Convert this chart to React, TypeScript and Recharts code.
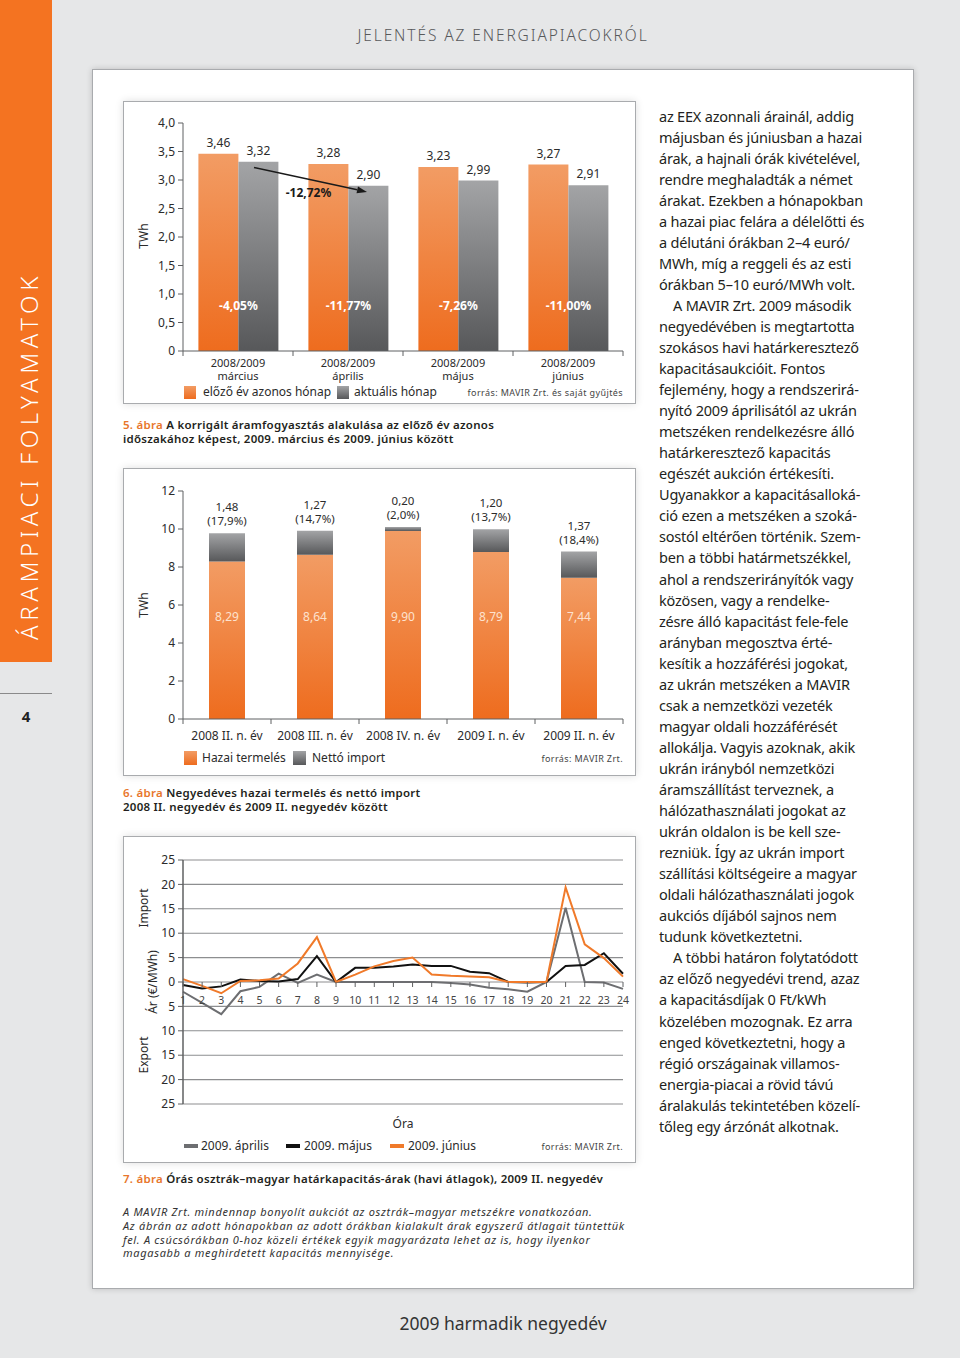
import React from 'react';
import {
  BarChart,
  Bar,
  XAxis,
  YAxis,
  LabelList,
  ReferenceLine,
  LineChart,
  Line,
  CartesianGrid,
} from 'recharts';

const FONT = '"Noto Sans", "DejaVu Sans", sans-serif';
const INK = '#2b2b2b';
const AXIS = '#5f6062';
const ORANGE = '#f07a2a';
const ORANGE_TEXT = '#e8762c';

// 5. ábra – korrigált áramfogyasztás (TWh)
const months = ['március', 'április', 'május', 'június'];
const prevYear = [3.46, 3.28, 3.23, 3.27];
const currYear = [3.32, 2.9, 2.99, 2.91];
const changeLabels = ['-4,05%', '-11,77%', '-7,26%', '-11,00%'];
const consTicks = [0, 0.5, 1, 1.5, 2, 2.5, 3, 3.5, 4];

// 6. ábra – hazai termelés és nettó import (TWh)
const quarters = ['2008 II. n. év', '2008 III. n. év', '2008 IV. n. év', '2009 I. n. év', '2009 II. n. év'];
const domestic = [8.29, 8.64, 9.9, 8.79, 7.44];
const netImport = [1.48, 1.27, 0.2, 1.2, 1.37];
const importShare = ['17,9%', '14,7%', '2,0%', '13,7%', '18,4%'];
const genTicks = [0, 2, 4, 6, 8, 10, 12];

// 7. ábra – órás határkapacitás-árak (€/MWh)
const hours = ['1', '2', '3', '4', '5', '6', '7', '8', '9', '10', '11', '12', '13', '14', '15', '16', '17', '18', '19', '20', '21', '22', '23', '24'];
const april = [-2.0, -4.3, -6.6, -1.9, -1.0, 1.7, -0.2, 1.5, 0, 0, 0, 0, 0, 0, -0.2, -0.5, -1.2, -1.5, -2.0, 0, 15.2, 0, -0.1, -1.4];
const may = [-0.6, -1.35, -0.9, 0.5, 0.2, 0.1, 0.6, 5.3, 0, 2.9, 2.9, 3.2, 3.6, 3.3, 3.3, 2.1, 1.8, 0, -0.1, 0, 3.3, 3.5, 5.9, 1.7];
const june = [0.6, -0.8, -2.3, 0.2, 0.35, 0.7, 3.8, 9.2, 0, 1.5, 3.2, 4.3, 5.0, 1.55, 1.3, 1.15, 0.95, 0, 0, 0, 19.4, 7.7, 4.9, 1.1];
const priceTicks = [-25, -20, -15, -10, -5, 0, 5, 10, 15, 20, 25];

const rightColumn = [
  'az EEX azonnali árainál, addig',
  'májusban és júniusban a hazai',
  'árak, a hajnali órák kivételével,',
  'rendre meghaladták a német',
  'árakat. Ezekben a hónapokban',
  'a hazai piac felára a délelőtti és',
  'a délutáni órákban 2–4 euró/',
  'MWh, míg a reggeli és az esti',
  'órákban 5–10 euró/MWh volt.',
  '\tA MAVIR Zrt. 2009 második',
  'negyedévében is megtartotta',
  'szokásos havi határkeresztező',
  'kapacitásaukcióit. Fontos',
  'fejlemény, hogy a rendszerirá-',
  'nyító 2009 áprilisától az ukrán',
  'metszéken rendelkezésre álló',
  'határkeresztező kapacitás',
  'egészét aukción értékesíti.',
  'Ugyanakkor a kapacitásalloká-',
  'ció ezen a metszéken a szoká-',
  'sostól eltérően történik. Szem-',
  'ben a többi határmetszékkel,',
  'ahol a rendszerirányítók vagy',
  'közösen, vagy a rendelke-',
  'zésre álló kapacitást fele-fele',
  'arányban megosztva érté-',
  'kesítik a hozzáférési jogokat,',
  'az ukrán metszéken a MAVIR',
  'csak a nemzetközi vezeték',
  'magyar oldali hozzáférését',
  'allokálja. Vagyis azoknak, akik',
  'ukrán irányból nemzetközi',
  'áramszállítást terveznek, a',
  'hálózathasználati jogokat az',
  'ukrán oldalon is be kell sze-',
  'rezniük. Így az ukrán import',
  'szállítási költségeire a magyar',
  'oldali hálózathasználati jogok',
  'aukciós díjából sajnos nem',
  'tudunk következtetni.',
  '\tA többi határon folytatódott',
  'az előző negyedévi trend, azaz',
  'a kapacitásdíjak 0 Ft/kWh',
  'közelében mozognak. Ez arra',
  'enged következtetni, hogy a',
  'régió országainak villamos-',
  'energia-piacai a rövid távú',
  'áralakulás tekintetében közelí-',
  'tőleg egy árzónát alkotnak.',
];

const noteLines = [
  'A MAVIR Zrt. mindennap bonyolít aukciót az osztrák–magyar metszékre vonatkozóan.',
  'Az ábrán az adott hónapokban az adott órákban kialakult árak egyszerű átlagait tüntettük',
  'fel. A csúcsórákban 0-hoz közeli értékek egyik magyarázata lehet az is, hogy ilyenkor',
  'magasabb a meghirdetett kapacitás mennyisége.',
];

const hu = (v: number, d: number) => v.toFixed(d).replace('.', ',');

function box(p: any) {
  const vb = p.viewBox || p;
  return { x: Number(vb.x), y: Number(vb.y), w: Number(vb.width), h: Number(vb.height) };
}

function Gradients() {
  return (
    <defs>
      <linearGradient id="gOrange" x1="0" y1="0" x2="0" y2="1">
        <stop offset="0%" stopColor="#f29c64" />
        <stop offset="100%" stopColor="#ee6c1e" />
      </linearGradient>
      <linearGradient id="gGray" x1="0" y1="0" x2="0" y2="1">
        <stop offset="0%" stopColor="#a3a4a6" />
        <stop offset="100%" stopColor="#57585a" />
      </linearGradient>
    </defs>
  );
}

// small absolutely placed text, centred vertically on cy
function Txt({ x, cy, children, size = 12, color = INK, anchor = 'left', weight = 400, style = {} }: any) {
  const s: React.CSSProperties = {
    position: 'absolute',
    top: cy - size * 0.7,
    fontSize: size,
    lineHeight: `${size * 1.4}px`,
    color,
    fontWeight: weight,
    whiteSpace: 'nowrap',
    ...style,
  };
  if (anchor === 'left') s.left = x;
  else if (anchor === 'right') s.right = 960 - x;
  else {
    s.left = x;
    s.transform = 'translateX(-50%)';
  }
  return <div style={s}>{children}</div>;
}

function VTxt({ x, cy, children, size = 12 }: any) {
  return (
    <div
      style={{
        position: 'absolute',
        left: x,
        top: cy,
        transform: 'translate(-50%, -50%) rotate(-90deg)',
        fontSize: size,
        color: INK,
        whiteSpace: 'nowrap',
      }}
    >
      {children}
    </div>
  );
}

function Frame({ top, height }: { top: number; height: number }) {
  return (
    <div
      style={{
        position: 'absolute',
        left: 123,
        top,
        width: 511,
        height: height - 2,
        background: '#fff',
        border: '1px solid #a9abae',
        boxShadow: '0 0 8px rgba(0,0,0,0.13)',
      }}
    />
  );
}

function GradSwatch({ x, cy, colors, w = 12, h = 13 }: any) {
  return (
    <div
      style={{
        position: 'absolute',
        left: x,
        top: cy - h / 2,
        width: w,
        height: h,
        background: `linear-gradient(${colors[0]}, ${colors[1]})`,
      }}
    />
  );
}

/* ---------- 5. ábra ---------- */

function MonthTick(props: any) {
  const { x, y, payload, index } = props;
  const band = 110;
  return (
    <g>
      {index === 0 && <line x1={x - band / 2} y1={y} x2={x - band / 2} y2={y + 5} stroke={AXIS} />}
      <line x1={x + band / 2} y1={y} x2={x + band / 2} y2={y + 5} stroke={AXIS} />
      <text x={x} y={y + 16} textAnchor="middle" fontSize={11} fill={INK}>
        2008/2009
      </text>
      <text x={x} y={y + 29} textAnchor="middle" fontSize={11} fill={INK}>
        {payload.value}
      </text>
    </g>
  );
}

function ChangeLabel(props: any) {
  const { x, y, w, h } = box(props);
  return (
    <text x={x + w} y={y + h - 41} textAnchor="middle" fontSize={12} fontWeight={700} fill="#fff">
      {props.value}
    </text>
  );
}

function TrendArrow(p: any) {
  const x1 = Number(p.x1) + 16;
  const y1 = Number(p.y1);
  const x2 = Number(p.x2) + 19;
  const y2 = Number(p.y2);
  const a = Math.atan2(y2 - y1, x2 - x1);
  const L = 10;
  const W = 3.5;
  const bx = x2 - L * Math.cos(a);
  const by = y2 - L * Math.sin(a);
  const pts = `${x2},${y2} ${bx - W * Math.sin(a)},${by + W * Math.cos(a)} ${bx + W * Math.sin(a)},${by - W * Math.cos(a)}`;
  return (
    <g>
      <line x1={x1} y1={y1} x2={bx} y2={by} stroke="#1a1a1a" strokeWidth={1.5} />
      <polygon points={pts} fill="#1a1a1a" />
      <text x={(x1 + x2) / 2 - 2} y={(y1 + y2) / 2 + 17} textAnchor="middle" fontSize={12} fontWeight={700} fill="#1a1a1a">
        -12,72%
      </text>
    </g>
  );
}

function ConsumptionChart() {
  const data = months.map((m, i) => ({ month: m, prev: prevYear[i], curr: currYear[i], change: changeLabels[i] }));
  return (
    <BarChart
      width={513}
      height={295}
      data={data}
      margin={{ top: 22, right: 13, bottom: 0, left: 15 }}
      barGap={0}
      barCategoryGap="14%"
      style={{ fontFamily: FONT }}
    >
      <Gradients />
      <XAxis
        dataKey="month"
        axisLine={{ stroke: AXIS }}
        tickLine={false}
        tickSize={0}
        tickMargin={0}
        height={45}
        interval={0}
        tick={(p: any) => <MonthTick {...p} />}
      />
      <YAxis
        domain={[0, 4]}
        ticks={consTicks}
        width={45}
        tickSize={5}
        tickMargin={3}
        axisLine={{ stroke: AXIS }}
        tickLine={{ stroke: AXIS }}
        tick={{ fontSize: 12, fill: INK }}
        tickFormatter={(v: number) => (v === 0 ? '0' : hu(v, 1))}
      />
      <Bar dataKey="prev" fill="url(#gOrange)" isAnimationActive={false}>
        <LabelList dataKey="prev" position="top" offset={7} fontSize={12} fill={INK} formatter={(v: any) => hu(Number(v), 2)} />
        <LabelList dataKey="change" content={ChangeLabel} />
      </Bar>
      <Bar dataKey="curr" fill="url(#gGray)" isAnimationActive={false}>
        <LabelList dataKey="curr" position="top" offset={7} fontSize={12} fill={INK} formatter={(v: any) => hu(Number(v), 2)} />
      </Bar>
      <ReferenceLine
        segment={[
          { x: 'március', y: 3.22 },
          { x: 'április', y: 2.79 },
        ]}
        ifOverflow="visible"
        shape={TrendArrow}
      />
    </BarChart>
  );
}

/* ---------- 6. ábra ---------- */

function QuarterTick(props: any) {
  const { x, y, payload, index } = props;
  const band = 88;
  return (
    <g>
      {index === 0 && <line x1={x - band / 2} y1={y} x2={x - band / 2} y2={y + 5} stroke={AXIS} />}
      <line x1={x + band / 2} y1={y} x2={x + band / 2} y2={y + 5} stroke={AXIS} />
      <text x={x} y={y + 21} textAnchor="middle" fontSize={12} fill={INK}>
        {payload.value}
      </text>
    </g>
  );
}

function ImportLabel(props: any) {
  const { x, y, w } = box(props);
  const [a, b] = String(props.value).split('|');
  return (
    <g>
      <text x={x + w / 2} y={y - 22} textAnchor="middle" fontSize={11.5} fill={INK}>
        {a}
      </text>
      <text x={x + w / 2} y={y - 8} textAnchor="middle" fontSize={11.5} fill={INK}>
        {b}
      </text>
    </g>
  );
}

function DomesticLabel(props: any) {
  const { x, y, w, h } = box(props);
  return (
    <text x={x + w / 2} y={y + h - 98} textAnchor="middle" fontSize={12} fill="#fde2cf">
      {hu(Number(props.value), 2)}
    </text>
  );
}

function GenerationChart() {
  const data = quarters.map((q, i) => ({
    quarter: q,
    dom: domestic[i],
    imp: netImport[i],
    top: `${hu(netImport[i], 2)}|(${importShare[i]})`,
  }));
  return (
    <BarChart
      width={513}
      height={281}
      data={data}
      margin={{ top: 23, right: 13, bottom: 0, left: 15 }}
      barSize={36}
      style={{ fontFamily: FONT }}
    >
      <Gradients />
      <XAxis
        dataKey="quarter"
        axisLine={{ stroke: AXIS }}
        tickLine={false}
        tickSize={0}
        tickMargin={0}
        height={30}
        interval={0}
        tick={(p: any) => <QuarterTick {...p} />}
      />
      <YAxis
        domain={[0, 12]}
        ticks={genTicks}
        width={45}
        tickSize={5}
        tickMargin={3}
        axisLine={{ stroke: AXIS }}
        tickLine={{ stroke: AXIS }}
        tick={{ fontSize: 12, fill: INK }}
      />
      <Bar dataKey="dom" stackId="s" fill="url(#gOrange)" isAnimationActive={false}>
        <LabelList dataKey="dom" content={DomesticLabel} />
      </Bar>
      <Bar dataKey="imp" stackId="s" fill="url(#gGray)" isAnimationActive={false}>
        <LabelList dataKey="top" content={ImportLabel} />
      </Bar>
    </BarChart>
  );
}

/* ---------- 7. ábra ---------- */

const PRICE_PLOT_H = 244;

function HourTick(props: any) {
  const { x, y, payload } = props;
  const zero = y - PRICE_PLOT_H / 2;
  return (
    <g>
      <line x1={x} y1={zero} x2={x} y2={zero + 5} stroke={AXIS} />
      <text x={x} y={zero + 22} textAnchor="middle" fontSize={10.5} fill="#444">
        {payload.value}
      </text>
    </g>
  );
}

function PriceChart() {
  const data = hours.map((h, i) => ({ hour: h, apr: april[i], may: may[i], jun: june[i] }));
  return (
    <LineChart
      width={513}
      height={298}
      data={data}
      margin={{ top: 24, right: 13, bottom: 0, left: 15 }}
      style={{ fontFamily: FONT }}
    >
      <CartesianGrid vertical={false} stroke="#8d8e90" strokeWidth={1.1} />
      <XAxis
        dataKey="hour"
        axisLine={false}
        tickLine={false}
        tickSize={0}
        tickMargin={0}
        height={30}
        interval={0}
        tick={(p: any) => <HourTick {...p} />}
      />
      <YAxis
        domain={[-25, 25]}
        ticks={priceTicks}
        width={45}
        tickSize={5}
        tickMargin={3}
        axisLine={{ stroke: AXIS, strokeWidth: 1.5 }}
        tickLine={{ stroke: AXIS }}
        tick={{ fontSize: 12, fill: INK }}
        tickFormatter={(v: number) => String(Math.abs(v))}
      />
      <Line dataKey="apr" stroke="#6d6e71" strokeWidth={2} dot={false} isAnimationActive={false} />
      <Line dataKey="may" stroke="#111111" strokeWidth={2} dot={false} isAnimationActive={false} />
      <Line dataKey="jun" stroke={ORANGE} strokeWidth={2} dot={false} isAnimationActive={false} />
    </LineChart>
  );
}

function Caption({ top, num, lines }: { top: number; num: string; lines: string[] }) {
  return (
    <div
      style={{
        position: 'absolute',
        left: 123,
        top,
        fontSize: 11.5,
        lineHeight: '14px',
        fontWeight: 600,
        letterSpacing: 0.25,
        color: '#231f20',
        whiteSpace: 'nowrap',
      }}
    >
      {lines.map((l, i) => (
        <div key={i}>
          {i === 0 && <span style={{ color: ORANGE_TEXT }}>{num} </span>}
          {l}
        </div>
      ))}
    </div>
  );
}

export default function App() {
  return (
    <div
      style={{
        position: 'absolute',
        left: 0,
        top: 0,
        width: 960,
        height: 1358,
        background: '#e6e7e8',
        fontFamily: FONT,
        overflow: 'hidden',
      }}
    >
      {/* left stripe */}
      <div style={{ position: 'absolute', left: 0, top: 0, width: 52, height: 662, background: '#f47321' }} />
      <div
        style={{
          position: 'absolute',
          left: 28,
          top: 456,
          transform: 'translate(-50%, -50%) rotate(-90deg)',
          color: '#fff',
          fontSize: 24,
          fontWeight: 300,
          letterSpacing: 4.6,
          whiteSpace: 'nowrap',
        }}
      >
        ÁRAMPIACI FOLYAMATOK
      </div>
      <div style={{ position: 'absolute', left: 0, top: 693, width: 52, height: 1, background: '#8a8a8a' }} />
      <Txt x={26} cy={716} anchor="middle" size={15} weight={700} color="#222">
        4
      </Txt>

      <Txt x={503} cy={36} anchor="middle" size={15.5} color="#58595b" style={{ letterSpacing: 1.9, fontWeight: 300 }}>
        JELENTÉS AZ ENERGIAPIACOKRÓL
      </Txt>

      {/* white panel */}
      <div
        style={{
          position: 'absolute',
          left: 92,
          top: 69,
          width: 820,
          height: 1218,
          background: '#fff',
          border: '1px solid #a9abae',
          boxShadow: '0 0 6px rgba(0,0,0,0.18)',
        }}
      />

      {/* 5. ábra */}
      <Frame top={101} height={303} />
      <div style={{ position: 'absolute', left: 123, top: 101 }}>
        <ConsumptionChart />
      </div>
      <VTxt x={143} cy={236}>TWh</VTxt>
      <GradSwatch x={184} cy={392} colors={['#f29c64', '#ee6c1e']} />
      <Txt x={203} cy={392}>előző év azonos hónap</Txt>
      <GradSwatch x={337} cy={392} colors={['#a3a4a6', '#57585a']} />
      <Txt x={354} cy={392}>aktuális hónap</Txt>
      <Txt x={623} cy={393} anchor="right" size={9} color="#444" style={{ letterSpacing: 0.4 }}>
        forrás: MAVIR Zrt. és saját gyűjtés
      </Txt>
      <Caption
        top={418}
        num="5. ábra"
        lines={['A korrigált áramfogyasztás alakulása az előző év azonos', 'időszakához képest, 2009. március és 2009. június között']}
      />

      {/* 6. ábra */}
      <Frame top={468} height={308} />
      <div style={{ position: 'absolute', left: 123, top: 468 }}>
        <GenerationChart />
      </div>
      <VTxt x={143} cy={605}>TWh</VTxt>
      <GradSwatch x={184} cy={758} w={13} h={14} colors={['#f29c64', '#ee6c1e']} />
      <Txt x={202} cy={758}>Hazai termelés</Txt>
      <GradSwatch x={293} cy={758} w={13} h={14} colors={['#a3a4a6', '#57585a']} />
      <Txt x={312} cy={758}>Nettó import</Txt>
      <Txt x={623} cy={759} anchor="right" size={9} color="#444" style={{ letterSpacing: 0.4 }}>
        forrás: MAVIR Zrt.
      </Txt>
      <Caption
        top={786}
        num="6. ábra"
        lines={['Negyedéves hazai termelés és nettó import', '2008 II. negyedév és 2009 II. negyedév között']}
      />

      {/* 7. ábra */}
      <Frame top={836} height={327} />
      <div style={{ position: 'absolute', left: 123, top: 836 }}>
        <PriceChart />
      </div>
      <VTxt x={143} cy={908}>Import</VTxt>
      <VTxt x={152} cy={982}>Ár (€/MWh)</VTxt>
      <VTxt x={143} cy={1055}>Export</VTxt>
      <Txt x={403} cy={1124} anchor="middle">Óra</Txt>
      <div style={{ position: 'absolute', left: 184, top: 1144, width: 14, height: 4, background: '#6d6e71' }} />
      <Txt x={201} cy={1146}>2009. április</Txt>
      <div style={{ position: 'absolute', left: 286, top: 1144, width: 14, height: 4, background: '#111' }} />
      <Txt x={304} cy={1146}>2009. május</Txt>
      <div style={{ position: 'absolute', left: 390, top: 1144, width: 14, height: 4, background: ORANGE }} />
      <Txt x={408} cy={1146}>2009. június</Txt>
      <Txt x={623} cy={1147} anchor="right" size={9} color="#444" style={{ letterSpacing: 0.4 }}>
        forrás: MAVIR Zrt.
      </Txt>
      <Caption top={1172} num="7. ábra" lines={['Órás osztrák–magyar határkapacitás-árak (havi átlagok), 2009 II. negyedév']} />
      <div
        style={{
          position: 'absolute',
          left: 123,
          top: 1205,
          fontSize: 11,
          lineHeight: '13.8px',
          fontStyle: 'italic',
          color: '#333',
          whiteSpace: 'nowrap',
          letterSpacing: 0.68,
        }}
      >
        {noteLines.map((l, i) => (
          <div key={i}>{l}</div>
        ))}
      </div>

      {/* right column */}
      <div
        style={{
          position: 'absolute',
          left: 659,
          top: 105.5,
          fontSize: 14.5,
          lineHeight: '21.04px',
          color: '#231f20',
          whiteSpace: 'nowrap',
          letterSpacing: -0.2,
        }}
      >
        {rightColumn.map((l, i) => (
          <div key={i} style={{ paddingLeft: l.startsWith('\t') ? 14 : 0 }}>
            {l.replace('\t', '')}
          </div>
        ))}
      </div>

      <Txt x={503} cy={1323} anchor="middle" size={17.5} color="#333">
        2009 harmadik negyedév
      </Txt>
    </div>
  );
}
